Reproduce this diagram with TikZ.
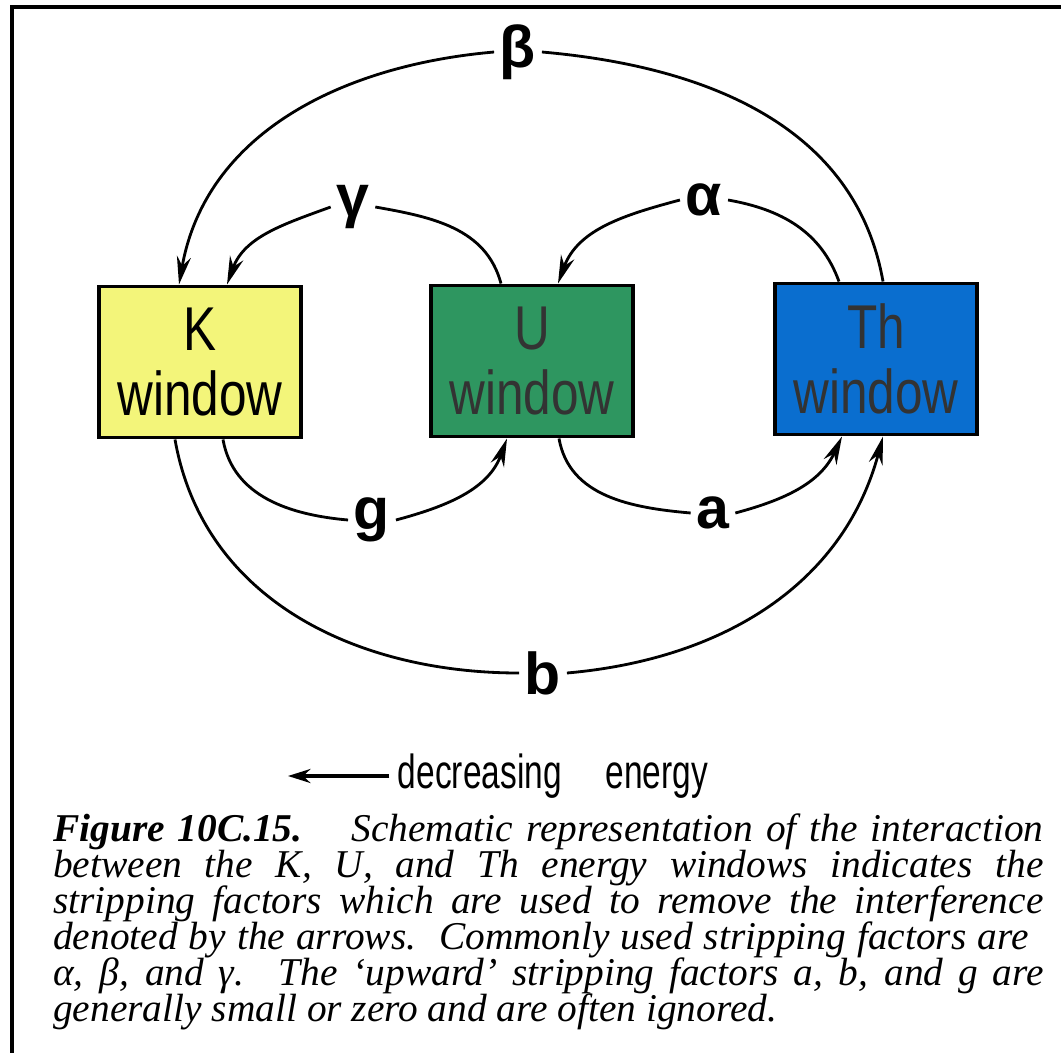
\documentclass[tikz,border=0pt]{standalone}
\usepackage{fontspec}
\setmainfont{Liberation Serif}
\setsansfont{Liberation Sans}
\usetikzlibrary{arrows.meta}
\definecolor{kyellow}{RGB}{243,245,122}
\definecolor{ugreen}{RGB}{46,150,96}
\definecolor{thblue}{RGB}{10,110,207}
\newcommand{\narrow}[2][0.8]{\scalebox{#1}[1]{#2}}
\begin{document}
\begin{tikzpicture}[x=0.025cm,y=-0.025cm,
  window/.style={draw,line width=2.8pt,minimum width=5.05cm,minimum height=3.775cm,
    inner sep=0pt,align=center,font=\sffamily\fontsize{44}{46}\selectfont},
  factor/.style={font=\sffamily\bfseries\fontsize{42}{42}\selectfont,inner sep=4pt},
  link/.style={line width=2pt},
  strip/.style={link,-{Stealth[length=20pt,width=10pt]}},
  capline/.style={anchor=base west,inner sep=0pt,font=\itshape\fontsize{28}{30}\selectfont}]
\useasboundingbox (0,0) rectangle (1061,1053);
\draw[line width=2.2pt] (12,1053) -- (12,7) -- (1061,7);
% the three windows
\node[window,fill=kyellow] (K) at (200,362) {\narrow{K}\\\narrow{window}};
\node[window,fill=ugreen,text=black!80] (U) at (532,361) {\narrow{U}\\\narrow{window}};
\node[window,fill=thblue,text=black!80] (Th) at (876,359) {\narrow{Th}\\\narrow{window}};
% stripping factors
\node[factor] (beta) at (518,52) {β};
\node[factor] (gamma) at (353,207) {γ};
\node[factor] (alpha) at (704,200) {α};
\node[factor] (g) at (372,520) {g};
\node[factor] (a) at (713,513) {a};
\node[factor] (b) at (543,673) {b};
\draw[link] ([shift={(7,0)}]Th.north) to[out=100,in=-5] (beta.east);
\draw[strip] (beta.west) to[out=185,in=80] ([shift={(-21,0)}]K.north);
\draw[link] ([shift={(-31,0)}]U.north) to[out=105,in=-10] (gamma.east);
\draw[strip] (gamma.west) to[out=200,in=70] ([shift={(27,0)}]K.north);
\draw[link] ([shift={(-37,0)}]Th.north) to[out=110,in=-10] (alpha.east);
\draw[strip] (alpha.west) to[out=195,in=70] ([shift={(26,0)}]U.north);
\draw[link] ([shift={(23,0)}]K.south) to[out=-80,in=175] (g.west);
\draw[strip] (g.east) to[out=15,in=-110] ([shift={(-25,0)}]U.south);
\draw[link] ([shift={(27,0)}]U.south) to[out=-80,in=175] (a.west);
\draw[strip] (a.east) to[out=15,in=-115] ([shift={(-34,0)}]Th.south);
\draw[link] ([shift={(-25,0)}]K.south) to[out=-80,in=180] (b.west);
\draw[strip] (b.east) to[out=5,in=-105] ([shift={(7,0)}]Th.south);
% energy direction
\node[font=\sffamily\fontsize{34}{34}\selectfont,inner sep=6pt] (energy) at (553,776)
  {\narrow[0.7]{decreasing}\hspace{1.1cm}\narrow[0.7]{energy}};
\coordinate (tip) at (288,776);
\draw[line width=2.2pt,-{Stealth[length=16pt,width=10pt]}] (energy.west) -- (tip);
% caption
\node[capline] (cap1) at (53,841) {\makebox[24.75cm][s]{\textbf{Figure 10C.15.}\hspace*{0.9cm} Schematic representation of the interaction}};
\node[capline] (cap2) at (53,877) {\makebox[24.75cm][s]{between the K, U, and Th energy windows indicates the}};
\node[capline] (cap3) at (53,913) {\makebox[24.75cm][s]{stripping factors which are used to remove the interference}};
\node[capline] (cap4) at (53,949) {\makebox[24.375cm][s]{denoted by the arrows.\hspace*{0.3cm} Commonly used stripping factors are}};
\node[capline] (cap5) at (53,985) {\makebox[24.75cm][s]{α, β, and γ.\hspace*{0.5cm} The `upward' stripping factors a, b, and g are}};
\node[capline] (cap6) at (53,1021) {generally small or zero and are often ignored.};
\end{tikzpicture}
\end{document}
